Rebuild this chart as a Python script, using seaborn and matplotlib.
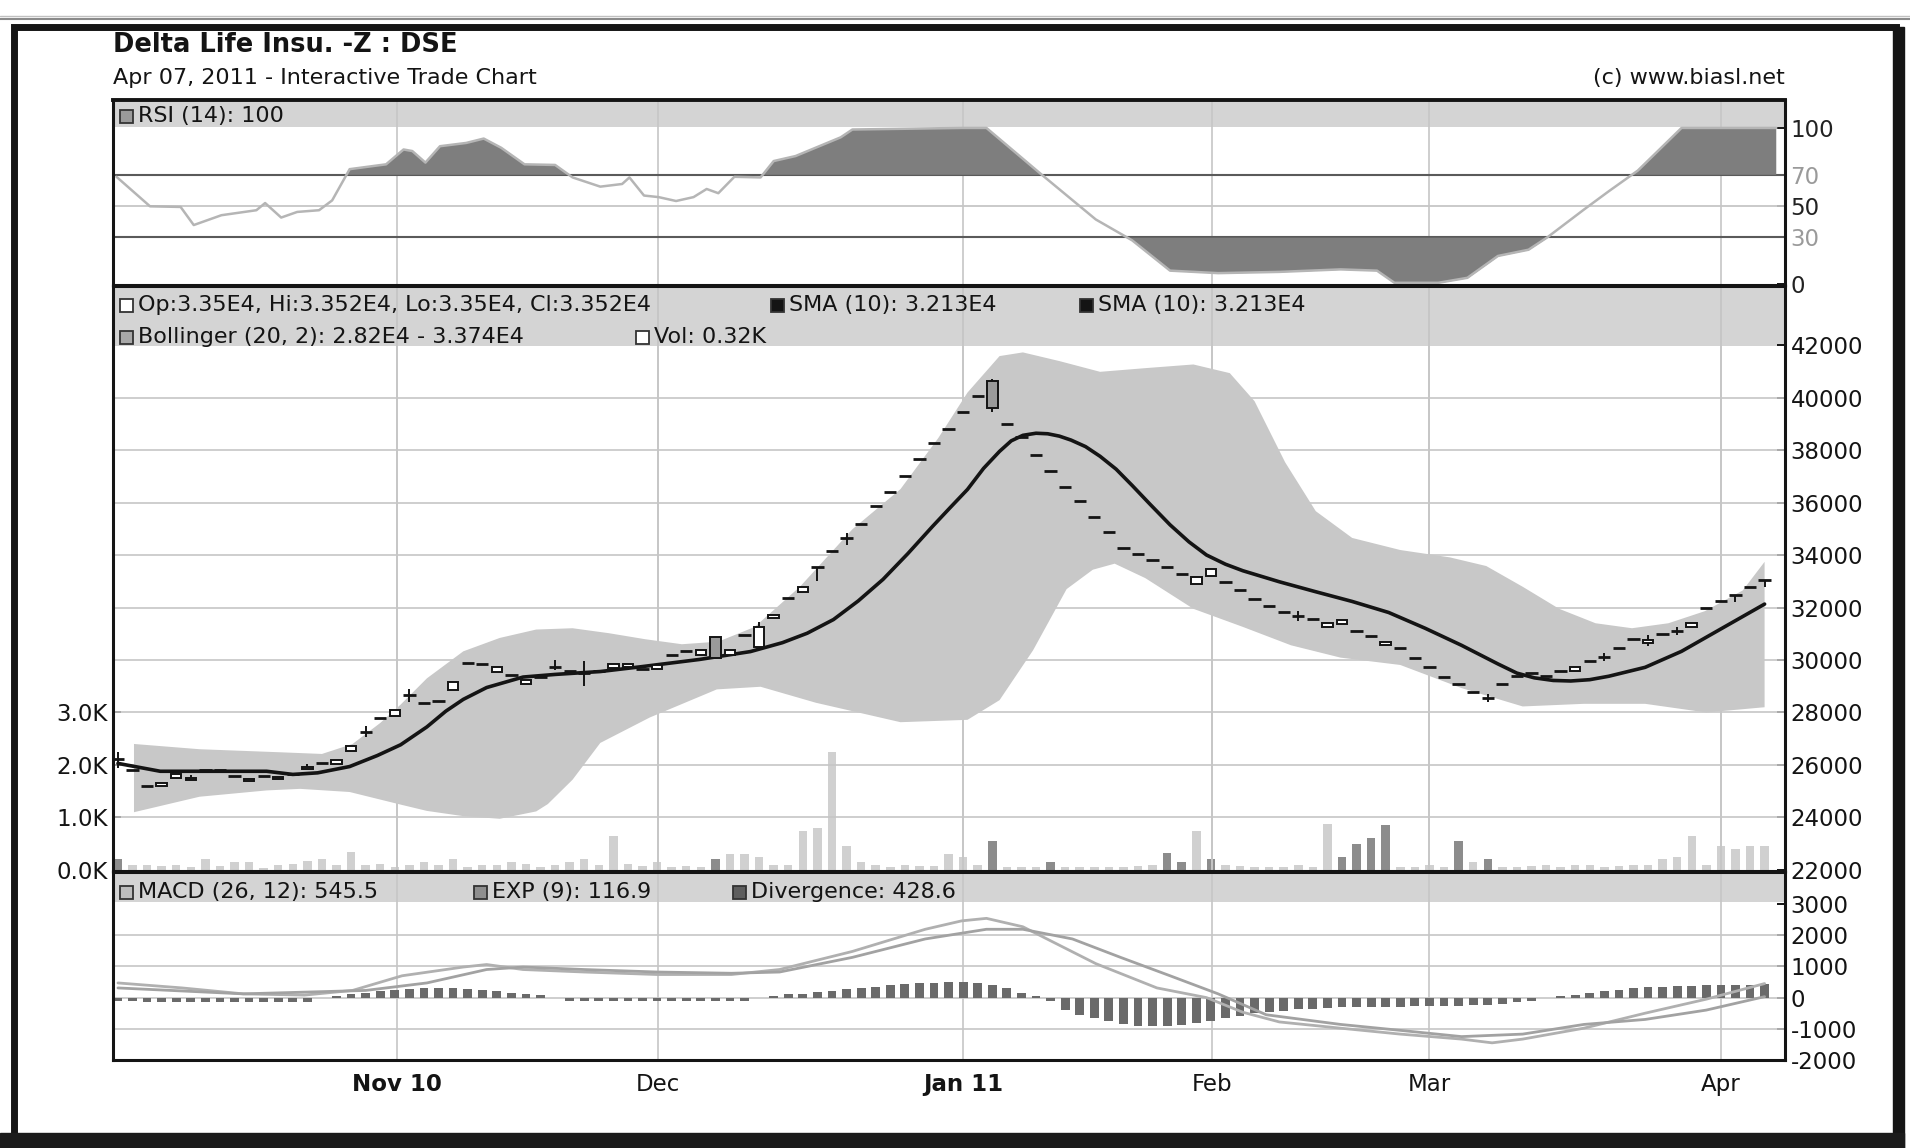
import matplotlib
matplotlib.use("Agg")
import matplotlib.pyplot as plt
from matplotlib.patches import Rectangle
import numpy as np
import seaborn as sns

# ------------------------------
# Data (x = trading bar index, 0 = first bar shown)
# ------------------------------
close_px = [26240, 25820, 25210, 25330, 25650, 25420, 25800, 25820, 25580, 25480,
            25580, 25480, 25640, 25920, 26060, 26180, 26730, 27270, 27780, 28100,
            28650, 28350, 28450, 29150, 29900, 29860, 29720, 29440, 29250, 29350,
            29720, 29580, 29490, 29580, 29860, 29860, 29670, 29810, 30190, 30330,
            30370, 30090, 30380, 30970, 31240, 31730, 32380, 32800, 33530, 34140,
            34630, 35170, 35860, 36390, 37000, 37650, 38260, 38800, 39440, 40050,
            39600, 38990, 38500, 37800, 37190, 36580, 36050, 35440, 34880, 34280,
            34050, 33810, 33530, 33260, 33150, 33450, 32980, 32650, 32330, 32050,
            31810, 31670, 31580, 31400, 31530, 31120, 30930, 30700, 30460, 30090,
            29720, 29350, 29070, 28790, 28560, 29070, 29400, 29490, 29400, 29580,
            29720, 29950, 30130, 30470, 30800, 30750, 31000, 31100, 31400, 32000,
            32250, 32470, 32770, 33060]

# bars with a visible candle body (open differs from close)
body_idx = [3, 4, 5, 9, 11, 13, 15, 16, 19, 23, 26, 28, 34, 35, 37, 40, 41, 42, 44, 45,
            47, 60, 74, 75, 83, 84, 87, 100, 105, 108]
body_open = [25180, 25500, 25500, 25380, 25560, 25850, 26030, 26550, 27850, 28850,
             29560, 29080, 29700, 29720, 29650, 30200, 30860, 30180, 30510, 31600,
             32600, 40630, 32900, 33200, 31250, 31380, 30560, 29580, 30650, 31250]

# bars with a visible high/low wick
wick_idx = [0, 5, 13, 17, 20, 30, 32, 44, 48, 50, 60, 81, 94, 102, 105, 107, 111, 113]
wick_hi = [26500, 25600, 26050, 27500, 28900, 30000, 29950, 31430, 33530, 34850,
           40700, 31850, 28700, 30280, 30950, 31250, 32470, 33060]
wick_lo = [25900, 25420, 25850, 27050, 28400, 29600, 29000, 30510, 33000, 34400,
           39440, 31500, 28400, 29980, 30550, 30950, 32200, 32800]

vol_k = [0.2, 0.1, 0.1, 0.08, 0.1, 0.05, 0.2, 0.08, 0.15, 0.15,
         0.03, 0.1, 0.12, 0.17, 0.2, 0.1, 0.35, 0.1, 0.12, 0.05,
         0.1, 0.15, 0.1, 0.2, 0.05, 0.1, 0.1, 0.15, 0.12, 0.05,
         0.1, 0.15, 0.2, 0.1, 0.65, 0.12, 0.08, 0.15, 0.05, 0.08,
         0.05, 0.2, 0.3, 0.3, 0.25, 0.1, 0.1, 0.75, 0.8, 2.25,
         0.45, 0.15, 0.1, 0.05, 0.1, 0.08, 0.08, 0.3, 0.25, 0.1,
         0.55, 0.05, 0.05, 0.05, 0.15, 0.05, 0.05, 0.05, 0.05, 0.05,
         0.08, 0.1, 0.33, 0.15, 0.75, 0.2, 0.1, 0.08, 0.05, 0.05,
         0.05, 0.1, 0.05, 0.88, 0.25, 0.5, 0.6, 0.85, 0.05, 0.05,
         0.1, 0.05, 0.55, 0.15, 0.2, 0.05, 0.05, 0.08, 0.1, 0.05,
         0.1, 0.1, 0.05, 0.08, 0.1, 0.1, 0.2, 0.25, 0.65, 0.1,
         0.45, 0.4, 0.45, 0.45]
vol_dark = [0, 41, 60, 64, 72, 73, 75, 84, 85, 86, 87, 92, 94]

sma_x = [0, 2.9, 10.2, 12.0, 13.7, 15.9, 17.8, 19.4, 21.2, 22.5,
         23.7, 25.3, 27.8, 30.0, 33.1, 36.0, 39.9, 43.4, 45.6, 47.3,
         49.1, 50.8, 52.5, 54.2, 55.9, 57.1, 58.3, 59.4, 60.5, 61.3,
         62.1, 63.0, 63.8, 64.6, 65.4, 66.4, 67.4, 68.5, 69.6, 70.8,
         72.2, 73.5, 74.7, 76.0, 77.2, 79.7, 82.2, 84.7, 87.2, 89.7,
         92.2, 94.7, 96.0, 97.2, 98.5, 99.7, 101.0, 102.3, 104.8, 107.3,
         109.8, 113]
sma_v = [26060, 25760, 25760, 25640, 25700, 25940, 26360, 26770, 27450, 28050,
         28500, 28950, 29350, 29450, 29560, 29750, 30020, 30320, 30660, 31020,
         31540, 32250, 33070, 34050, 35090, 35800, 36500, 37300, 37950, 38350,
         38560, 38640, 38620, 38530, 38380, 38130, 37760, 37270, 36650, 35950,
         35150, 34500, 34000, 33650, 33400, 32980, 32600, 32230, 31810, 31210,
         30560, 29850, 29500, 29320, 29220, 29200, 29250, 29380, 29720, 30330,
         31120, 32130]

bb_up_x = [1.1, 5.6, 11.3, 14.0, 16.1, 18.0, 19.4, 21.2, 23.7, 26.2,
           28.7, 31.2, 33.7, 36.2, 38.7, 41.2, 43.7, 46.8, 50.4, 53.7,
           56.3, 58.3, 60.5, 62.1, 64.6, 67.4, 70.5, 73.8, 76.3, 78.0,
           80.1, 82.2, 84.7, 88.0, 91.4, 93.9, 96.4, 98.9, 101.4, 103.9,
           106.4, 108.9, 111.5, 113]
bb_up = [26800, 26600, 26480, 26420, 26800, 27600, 28300, 29300, 30330, 30840,
         31160, 31210, 31020, 30790, 30600, 30700, 31260, 32790, 34980, 36510,
         38460, 40190, 41580, 41720, 41390, 40980, 41120, 41260, 40930, 39860,
         37530, 35670, 34650, 34190, 33910, 33580, 32790, 31950, 31400, 31210,
         31400, 31860, 32650, 33740]
bb_lo_x = [1.1, 5.6, 10.2, 12.5, 15.9, 19.4, 21.2, 23.7, 26.2, 28.7,
           29.5, 31.2, 33.1, 36.5, 41.1, 44.1, 47.9, 53.7, 58.3, 60.5,
           62.8, 65.1, 66.9, 68.4, 70.5, 73.8, 77.2, 80.5, 83.9, 88.0,
           92.2, 96.4, 100.6, 104.8, 109.0, 113]
bb_lo = [24200, 24790, 25030, 25090, 24970, 24490, 24250, 24050, 23950, 24230,
         24510, 25440, 26840, 27810, 28880, 28980, 28370, 27630, 27720, 28470,
         30370, 32700, 33440, 33670, 33120, 31950, 31260, 30560, 30090, 29810,
         28930, 28230, 28330, 28330, 28000, 28200]

rsi_x = [-0.1, 2.2, 4.3, 5.2, 7.1, 9.5, 10.1, 11.2, 12.3, 13.8,
         14.7, 15.9, 18.4, 19.6, 20.2, 21.1, 22.1, 23.9, 25.1, 26.3,
         27.9, 30.0, 31.2, 33.1, 34.6, 35.1, 36.1, 37.1, 38.3, 39.5,
         40.4, 41.2, 42.3, 44.1, 45.0, 46.5, 49.6, 50.4, 57.9, 59.6,
         63.4, 67.1, 69.6, 72.2, 75.5, 79.7, 83.9, 86.4, 87.6, 90.6,
         92.6, 94.7, 96.8, 98.1, 100.6, 102.3, 104.3, 107.3, 113.8]
rsi_v = [68.7, 49.8, 49.4, 37.8, 44.1, 47.3, 51.9, 42.6, 46.2, 47.3,
         53.6, 73.6, 76.7, 86.2, 85.2, 77.8, 88.3, 90.4, 93.2, 87.3,
         76.7, 76.3, 68.3, 62.4, 64.1, 68.3, 56.7, 55.7, 53.2, 55.7,
         60.9, 58.2, 68.7, 68.3, 78.8, 82.0, 94.0, 99.0, 100.0, 100.0,
         70.0, 41.4, 28.0, 8.6, 7.0, 7.8, 9.4, 8.6, 0.8, 0.8,
         4.0, 18.0, 22.0, 30.0, 47.7, 59.4, 72.7, 100.0, 100.0]

macd_x = [0, 4.4, 8.6, 12.8, 16.1, 19.5, 23.7, 25.3, 27.8, 32.0,
          37.0, 42.1, 45.4, 50.4, 55.4, 57.9, 59.6, 62.1, 64.6, 67.1,
          71.3, 74.7, 77.2, 79.7, 83.9, 88.0, 92.2, 94.3, 96.4, 100.6,
          104.8, 109.0, 113]
macd_v = [470, 310, 120, 80, 230, 700, 980, 1060, 900, 820,
          740, 740, 900, 1480, 2190, 2460, 2540, 2270, 1680, 1090,
          310, 0, -470, -780, -980, -1170, -1330, -1450, -1330, -980,
          -500, -50, 450]
exp_x = [0, 8.6, 17.0, 21.2, 25.3, 27.8, 32.0, 37.0, 42.1, 45.4,
         50.4, 55.4, 59.6, 62.1, 65.5, 68.8, 72.2, 75.5, 78.8, 83.9,
         88.0, 92.2, 96.4, 100.6, 104.8, 109.0, 113]
exp_v = [310, 120, 230, 470, 900, 980, 900, 820, 780, 820,
         1290, 1880, 2190, 2190, 1880, 1290, 700, 120, -550, -860,
         -1050, -1250, -1170, -860, -700, -400, 30]

diverg = [-100, -100] + [-150] * 12 + [0, 50] + \
         [120, 150, 200, 250, 280, 300, 300, 300, 280, 250, 200, 150, 100, 80] + \
         [0] + [-100] * 13 + [0, 50] + \
         [100, 130, 170, 220, 260, 300, 350, 400, 430, 460, 480, 500, 500, 480, 420, 300] + \
         [150, 50] + \
         [-100, -400, -550, -650, -750, -850, -900, -900, -900, -870,
          -800, -750, -650, -600, -500, -470, -420, -380, -350, -330,
          -300, -300, -300, -300, -300, -280, -280, -270, -260, -250,
          -230, -200, -150, -100, 0, 50, 80, 150, 200, 250,
          300, 330, 350, 380, 380, 400, 400, 420, 420, 430]

tick_pos = [19.15, 37.06, 58.0, 75.1, 90.0, 110.0]
tick_labels = ["Nov 10", "Dec", "Jan 11", "Feb", "Mar", "Apr"]
tick_bold = [True, False, True, False, False, False]

price_ticks = list(range(22000, 42001, 2000))
vol_ticks = [0, 1, 2, 3]
rsi_ticks = [0, 30, 50, 70, 100]
rsi_tick_colors = ['#222222', '#9a9a9a', '#222222', '#9a9a9a', '#222222']
macd_ticks = [-2000, -1000, 0, 1000, 2000, 3000]

# ------------------------------
# Style
# ------------------------------
W, H = 1910, 1148
X_LEFT, X_RIGHT = -0.34, 114.4
GRID = '#c6c6c6'
BAND = '#d4d4d4'
INK = '#141414'
FS = 16.5

sns.set_theme(style="white")
plt.rcParams['font.family'] = ['DejaVu Sans']

fig = plt.figure(figsize=(W / 100, H / 100), dpi=100, facecolor='white')


def frac(left, top, right, bottom):
    return [left / W, 1 - bottom / H, (right - left) / W, (bottom - top) / H]


# --- page frame ---
bg = fig.add_axes([0, 0, 1, 1], zorder=-5)
bg.set_xlim(0, W)
bg.set_ylim(H, 0)
bg.axis('off')
bg.plot([0, W], [19, 19], color='#8a8a8a', lw=1.5)
bg.plot([0, W], [16, 16], color='#c0c0c0', lw=1.0)
bg.add_patch(Rectangle((14, 27), 1882, 1120, fill=False, ec='#151515', lw=5))
bg.add_patch(Rectangle((1893, 27), 11, H, color='#151515'))
bg.add_patch(Rectangle((0, 1133), 1904, 15, color='#1b1b1b'))

ax_rsi = fig.add_axes(frac(113, 100, 1785, 285))
ax_px = fig.add_axes(frac(113, 286, 1785, 871))
ax_macd = fig.add_axes(frac(113, 872, 1785, 1060))


def style_panel(ax):
    ax.set_xlim(X_LEFT, X_RIGHT)
    ax.set_facecolor('white')
    for s in ax.spines.values():
        s.set_visible(True)
        s.set_color(INK)
        s.set_linewidth(2.2)
    for t in tick_pos:
        ax.axvline(t, color=GRID, lw=1.2, zorder=0.6)
    ax.set_xticks([])
    ax.yaxis.tick_right()
    ax.tick_params(axis='y', direction='in', length=6, width=1.4, pad=4,
                   labelsize=FS, colors=INK)


for ax in (ax_rsi, ax_px, ax_macd):
    style_panel(ax)
ax_rsi.spines['top'].set_linewidth(2.8)

# --- RSI ---
rx = np.array(rsi_x)
rv = np.array(rsi_v)
ax_rsi.set_ylim(-0.6, 117.9)
ax_rsi.axhspan(100.4, 120, color=BAND, lw=0, zorder=0.3)
ax_rsi.axhline(50, color=GRID, lw=1.3, zorder=0.6)
ax_rsi.axhline(70, color='#5a5a5a', lw=1.5, zorder=0.7)
ax_rsi.axhline(30, color='#5a5a5a', lw=1.5, zorder=0.7)
ax_rsi.fill_between(rx, rv, 70, where=rv >= 70, interpolate=True, color='#7e7e7e', lw=0, zorder=1)
ax_rsi.fill_between(rx, rv, 30, where=rv <= 30, interpolate=True, color='#7e7e7e', lw=0, zorder=1)
sns.lineplot(x=rx, y=rv, ax=ax_rsi, color='#b5b5b5', lw=1.8, sort=False, estimator=None, zorder=2)
ax_rsi.set_yticks(rsi_ticks)
ax_rsi.set_yticklabels([str(v) for v in rsi_ticks])
for lab, c in zip(ax_rsi.get_yticklabels(), rsi_tick_colors):
    lab.set_color(c)
ax_rsi.set_xlabel('')
ax_rsi.set_ylabel('')

# --- price panel ---
ax_vol = ax_px.twinx()   # twinx moves the price ticks to the left, so restyle below
ax_px.set_zorder(2)
ax_px.patch.set_visible(False)
ax_vol.set_zorder(1)
ax_vol.set_facecolor('white')

ax_px.set_ylim(21960, 44250)
ax_px.axhspan(41950, 44300, color=BAND, lw=0, zorder=0.3)
for v in price_ticks[1:-1]:
    ax_px.axhline(v, color=GRID, lw=1.2, zorder=0.6)
poly_x = bb_up_x + bb_lo_x[::-1]
poly_y = bb_up + bb_lo[::-1]
ax_px.fill(poly_x, poly_y, color='#c8c8c8', lw=0, zorder=1)
sns.lineplot(x=sma_x, y=sma_v, ax=ax_px, color=INK, lw=2.6, sort=False, estimator=None, zorder=3)

idx = np.arange(len(close_px))
closes = np.array(close_px, dtype=float)
opens = closes.copy()
opens[body_idx] = body_open
dash = np.ones(len(idx), dtype=bool)
dash[body_idx] = False
ax_px.vlines(wick_idx, wick_lo, wick_hi, color=INK, lw=1.4, zorder=4)
ax_px.hlines(closes[dash], idx[dash] - 0.42, idx[dash] + 0.42, color=INK, lw=2.0, zorder=5)
b_open = opens[body_idx]
b_close = closes[body_idx]
b_col = ['white' if c >= o else '#9a9a9a' for o, c in zip(b_open, b_close)]
ax_px.bar(body_idx, np.abs(b_close - b_open), bottom=np.minimum(b_open, b_close),
          width=0.72, color=b_col, edgecolor=INK, lw=1.4, zorder=5)
style_panel(ax_px)
ax_px.set_yticks(price_ticks)
ax_px.set_yticklabels([str(v) for v in price_ticks])
ax_px.set_xlabel('')
ax_px.set_ylabel('')

ax_vol.set_xlim(X_LEFT, X_RIGHT)
ax_vol.set_ylim(-0.02, 11.125)
for s in ax_vol.spines.values():
    s.set_visible(False)
vcol = ['#8c8c8c' if i in vol_dark else '#d0d0d0' for i in idx]
ax_vol.bar(idx, vol_k, width=0.58, color=vcol, lw=0, zorder=1)
ax_vol.yaxis.tick_left()
ax_vol.set_yticks(vol_ticks)
ax_vol.set_yticklabels(['%.1fK' % v for v in vol_ticks])
ax_vol.tick_params(axis='y', direction='in', length=6, width=1.4, pad=4, labelsize=FS, colors=INK)
ax_vol.set_xticks([])

# --- MACD ---
ax_macd.set_ylim(-2000, 4026)
ax_macd.axhspan(3050, 4100, color=BAND, lw=0, zorder=0.3)
for v in macd_ticks[1:-1]:
    ax_macd.axhline(v, color=GRID, lw=1.2, zorder=0.6)
ax_macd.bar(idx, diverg, width=0.6, color='#6a6a6a', lw=0, zorder=2)
sns.lineplot(x=macd_x, y=macd_v, ax=ax_macd, color='#b0b0b0', lw=2.0, sort=False, estimator=None, zorder=3)
sns.lineplot(x=exp_x, y=exp_v, ax=ax_macd, color='#a2a2a2', lw=2.0, sort=False, estimator=None, zorder=3)
ax_macd.set_yticks(macd_ticks)
ax_macd.set_yticklabels([str(v) for v in macd_ticks])
ax_macd.set_xticks(tick_pos)
ax_macd.set_xticklabels(tick_labels)
ax_macd.tick_params(axis='x', direction='out', length=4.5, width=1.2, pad=5, labelsize=FS, colors=INK)
for lab, b in zip(ax_macd.get_xticklabels(), tick_bold):
    lab.set_fontweight('bold' if b else 'normal')
ax_macd.set_xlabel('')
ax_macd.set_ylabel('')

# --- overlay texts ---
ov = fig.add_axes([0, 0, 1, 1], zorder=10)
ov.set_xlim(0, W)
ov.set_ylim(H, 0)
ov.axis('off')
ov.patch.set_alpha(0)

ov.text(113, 45, "Delta Life Insu. -Z : DSE", fontsize=18.5, fontweight='bold',
        color=INK, va='center', ha='left')
ov.text(113, 78, "Apr 07, 2011 - Interactive Trade Chart", fontsize=16,
        color=INK, va='center', ha='left')
ov.text(1785, 78, "(c) www.biasl.net", fontsize=16, color=INK, va='center', ha='right')

legend_items = [
    (120, 116, '#9a9a9a', "RSI (14): 100"),
    (120, 305, 'white', "Op:3.35E4, Hi:3.352E4, Lo:3.35E4, Cl:3.352E4"),
    (771, 305, INK, "SMA (10): 3.213E4"),
    (1080, 305, INK, "SMA (10): 3.213E4"),
    (120, 337, '#a8a8a8', "Bollinger (20, 2): 2.82E4 - 3.374E4"),
    (636, 337, 'white', "Vol: 0.32K"),
    (120, 892, '#bdbdbd', "MACD (26, 12): 545.5"),
    (474, 892, '#8e8e8e', "EXP (9): 116.9"),
    (733, 892, '#5e5e5e', "Divergence: 428.6"),
]
for x0, y0, fc, label in legend_items:
    ov.add_patch(Rectangle((x0, y0 - 6.5), 13, 13, fc=fc, ec='#333333', lw=1.3))
    ov.text(x0 + 18, y0, label, fontsize=16, color=INK, va='center', ha='left')

fig.savefig("out.png", dpi=100, facecolor='white')
